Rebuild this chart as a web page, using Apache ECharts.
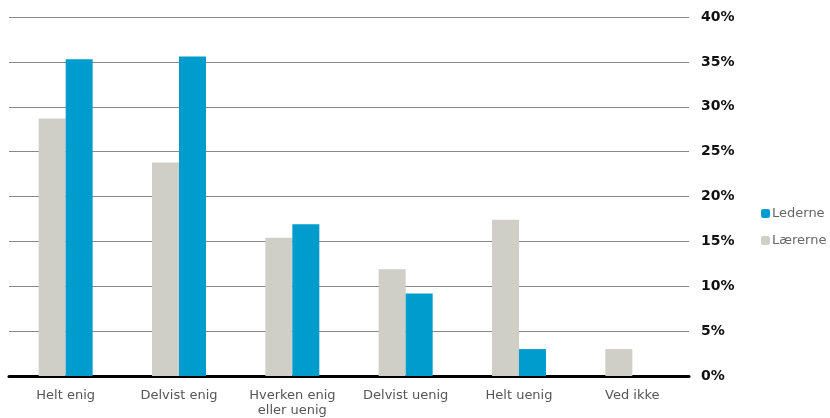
<!DOCTYPE html>
<html>
<head>
<meta charset="utf-8">
<script src="https://cdn.jsdelivr.net/npm/echarts@6/dist/echarts.min.js"></script>
<style>
  html, body { margin: 0; padding: 0; background: #fff; }
  #chart { width: 830px; height: 418px; }
</style>
</head>
<body>
<div id="chart"></div>
<script>
const categories = ['Helt enig', 'Delvist enig', 'Hverken enig\neller uenig', 'Delvist uenig', 'Helt uenig', 'Ved ikke']
const laererne = [28.7, 23.8, 15.4, 11.9, 17.4, 3.0]
const lederne = [35.3, 35.6, 16.9, 9.2, 3.0, 0]

const chart = echarts.init(document.getElementById('chart'))
chart.setOption({
  animation: false,
  textStyle: { fontFamily: 'DejaVu Sans' },
  grid: {
    left: 9,
    right: 141,
    top: 17,
    bottom: 41
  },
  legend: {
    orient: 'vertical',
    left: 756,
    top: 202,
    itemWidth: 9,
    itemHeight: 9,
    itemGap: 14,
    data: ['Lederne', 'Lærerne'],
    textStyle: { color: '#666', fontSize: 13, padding: [0, 0, 0, -3] }
  },
  xAxis: {
    type: 'category',
    data: categories,
    axisTick: { show: false },
    axisLine: { lineStyle: { color: '#000', width: 3 } },
    axisLabel: {
      color: '#555',
      fontSize: 13,
      margin: 12,
      lineHeight: 15,
      interval: 0
    }
  },
  yAxis: {
    type: 'value',
    position: 'right',
    min: 0,
    max: 40,
    interval: 5,
    axisLine: { show: false },
    axisTick: { show: false },
    splitLine: { lineStyle: { color: '#888', width: 1 } },
    axisLabel: {
      color: '#111',
      fontWeight: 'bold',
      fontSize: 14,
      margin: 12,
      formatter: '{value}%'
    }
  },
  series: [
    {
      name: 'Lærerne',
      type: 'bar',
      data: laererne,
      barWidth: 27,
      barGap: '0%',
      itemStyle: { color: '#cfcfc7' }
    },
    {
      name: 'Lederne',
      type: 'bar',
      data: lederne,
      barWidth: 27,
      itemStyle: { color: '#009ccd' }
    }
  ]
})
</script>
</body>
</html>
